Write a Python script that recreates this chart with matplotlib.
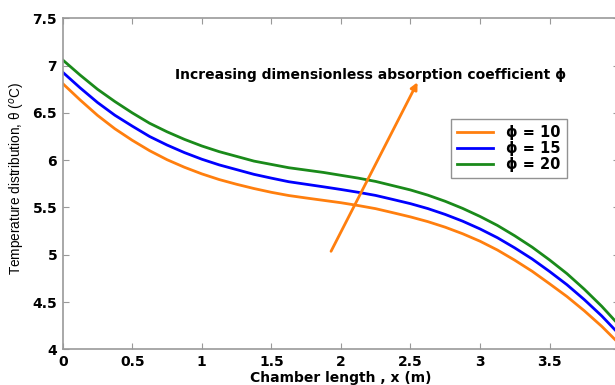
import matplotlib
matplotlib.use("Agg")
import matplotlib.pyplot as plt

plt.rcParams['font.family'] = ['Liberation Sans', 'DejaVu Sans']

x = [0, 0.125, 0.25, 0.375, 0.5, 0.625, 0.75, 0.875, 1.0, 1.125, 1.25, 1.375, 1.5, 1.625, 1.75, 1.875,
     2.0, 2.125, 2.25, 2.375, 2.5, 2.625, 2.75, 2.875, 3.0, 3.125, 3.25, 3.375, 3.5, 3.625, 3.75, 3.875, 4.0]
phi10 = [6.81, 6.637, 6.474, 6.332, 6.21, 6.10, 6.005, 5.925, 5.855, 5.795, 5.745, 5.70, 5.66, 5.626, 5.60, 5.575,
         5.55, 5.52, 5.487, 5.444, 5.40, 5.35, 5.291, 5.222, 5.143, 5.05, 4.942, 4.825, 4.693, 4.558, 4.407, 4.243, 4.06]
phi15 = [6.93, 6.765, 6.61, 6.475, 6.36, 6.25, 6.16, 6.08, 6.01, 5.95, 5.90, 5.85, 5.81, 5.772, 5.745, 5.718,
         5.69, 5.66, 5.627, 5.584, 5.54, 5.488, 5.426, 5.355, 5.273, 5.18, 5.072, 4.955, 4.823, 4.683, 4.525, 4.353, 4.16]
phi20 = [7.06, 6.90, 6.75, 6.62, 6.50, 6.39, 6.30, 6.22, 6.15, 6.09, 6.04, 5.99, 5.955, 5.92, 5.895, 5.87,
         5.84, 5.81, 5.775, 5.73, 5.685, 5.63, 5.565, 5.49, 5.405, 5.31, 5.20, 5.08, 4.945, 4.80, 4.635, 4.455, 4.255]
labels = ["\u03d5 = 10", "\u03d5 = 15", "\u03d5 = 20"]
colors = ["#ff7f0e", "#0000ff", "#1a8a1a"]

xticks = [0, 0.5, 1, 1.5, 2, 2.5, 3, 3.5, 4]
yticks = [4, 4.5, 5, 5.5, 6, 6.5, 7, 7.5]

fig = plt.figure(figsize=(6.15, 3.85), dpi=100)
# axes runs a bit past the right edge, as in the reference crop
ax = fig.add_axes([62.7/615, 35.7/385, 556.4/615, 331/385])

for y, lab, c in zip([phi10, phi15, phi20], labels, colors):
    ax.plot(x, y, color=c, lw=2, label=lab)

# arrow + note
ax.annotate("", xy=(2.56, 6.85), xytext=(1.92, 5.01),
            arrowprops=dict(arrowstyle="-|>", color="#ff7f0e", lw=2, mutation_scale=10))
ax.text(0.81, 6.9, "Increasing dimensionless absorption coefficient \u03d5",
        fontsize=10, fontweight="bold", va="center", family=["DejaVu Sans"])

ax.set_xlim(0, 4)
ax.set_ylim(4, 7.5)
ax.set_xticks(xticks)
ax.set_xticklabels([f"{t:g}" for t in xticks])
ax.set_yticks(yticks)
ax.set_yticklabels([f"{t:g}" for t in yticks])
ax.tick_params(direction="in", length=4.5, color="#999999", labelsize=10,
               top=True, right=True, pad=4)
for t in ax.get_xticklabels() + ax.get_yticklabels():
    t.set_fontweight("bold")
    t.set_family(["DejaVu Sans"])
for s in ax.spines.values():
    s.set_color("#999999")
    s.set_linewidth(1.2)

ax.set_xlabel("Chamber length , x (m)", fontsize=10, fontweight="bold",
              family=["DejaVu Sans"], va="center")
ax.xaxis.set_label_coords(0.5, -0.087)
ax.set_ylabel("Temperature distribution, \u03b8 ($^{o}$C)", fontsize=9.8)
ax.yaxis.set_label_coords(-0.064, 0.5175)

leg = ax.legend(loc="upper left", bbox_to_anchor=(450.7/615, 1 - 119.3/385),
                bbox_transform=fig.transFigure, borderaxespad=0,
                prop={"weight": "bold", "size": 10.5, "family": ["DejaVu Sans"]},
                frameon=True, fancybox=False, handlelength=2.5, handletextpad=0.9,
                borderpad=0.42, labelspacing=0.05)
leg.get_frame().set_edgecolor("#777777")
leg.get_frame().set_linewidth(1)

fig.savefig("out.png", dpi=100)
